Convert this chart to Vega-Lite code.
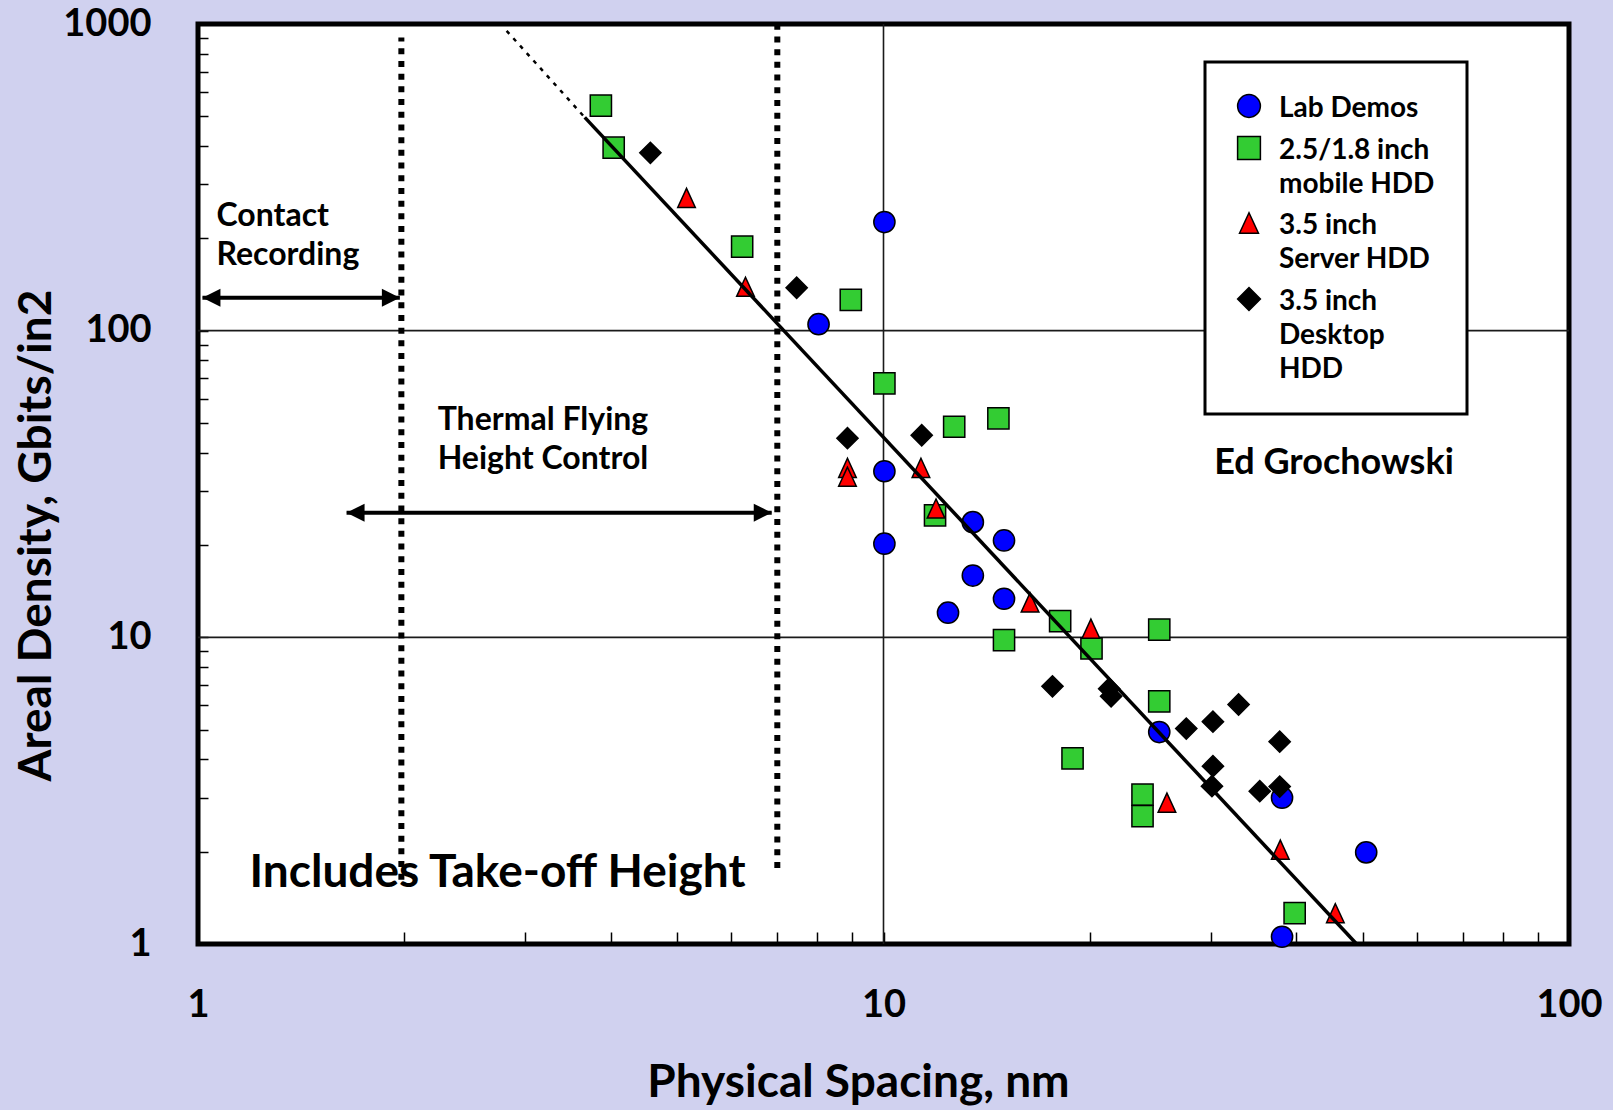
{
  "$schema": "https://vega.github.io/schema/vega-lite/v6.json",
  "width": 1371,
  "height": 920,
  "autosize": {"type": "none"},
  "padding": {"left": 198, "top": 24, "right": 44, "bottom": 166},
  "background": "#d0d1ef",
  "config": {
    "view": {"stroke": "black", "strokeWidth": 5, "fill": "white"},
    "font": "Lato",
    "legend": {"strokeWidth": 3},
    "style": {"guide-label": {"lineHeight": 34, "dy": -11}}
  },
  "resolve": {"axis": {"x": "independent", "y": "independent"}},
  "layer": [
    {
      "data": {"values": [{"y": 10}, {"y": 100}]},
      "mark": {"type": "rule", "color": "#1a1a1a", "strokeWidth": 1.6},
      "encoding": {
        "y": {"field": "y", "type": "quantitative", "scale": {"type": "log", "domain": [1, 1000], "nice": false}, "axis": null}
      }
    },
    {
      "data": {"values": [{"x": 10}]},
      "mark": {"type": "rule", "color": "#1a1a1a", "strokeWidth": 1.6},
      "encoding": {
        "x": {"field": "x", "type": "quantitative", "scale": {"type": "log", "domain": [1, 100], "nice": false}, "axis": null}
      }
    },
    {
      "data": {"values": [{"x": 1.98, "y": 1.62, "y2": 904}, {"x": 7.0, "y": 1.77, "y2": 1000}]},
      "mark": {"type": "rule", "color": "black", "strokeWidth": 6, "strokeDash": [6, 6.7], "strokeCap": "butt"},
      "encoding": {
        "x": {"field": "x", "type": "quantitative", "scale": {"type": "log", "domain": [1, 100], "nice": false}, "axis": null},
        "y": {"field": "y", "type": "quantitative", "scale": {"type": "log", "domain": [1, 1000], "nice": false}, "axis": null},
        "y2": {"field": "y2"}
      }
    },
    {
      "data": {"values": [{"x": 1.015, "x2": 1.97, "y": 128}, {"x": 1.647, "x2": 6.87, "y": 25.5}]},
      "mark": {"type": "rule", "color": "black", "strokeWidth": 4},
      "encoding": {
        "x": {"field": "x", "type": "quantitative", "scale": {"type": "log", "domain": [1, 100], "nice": false}, "axis": null},
        "x2": {"field": "x2"},
        "y": {"field": "y", "type": "quantitative", "scale": {"type": "log", "domain": [1, 1000], "nice": false}, "axis": null}
      }
    },
    {
      "data": {"values": [{"x": 1.015, "y": 128}, {"x": 1.647, "y": 25.5}]},
      "mark": {"type": "point", "shape": "M0,0L2,-1L2,1Z", "filled": true, "fill": "black", "strokeWidth": 0, "size": 324, "opacity": 1},
      "encoding": {
        "x": {"field": "x", "type": "quantitative", "scale": {"type": "log", "domain": [1, 100], "nice": false}, "axis": null},
        "y": {"field": "y", "type": "quantitative", "scale": {"type": "log", "domain": [1, 1000], "nice": false}, "axis": null}
      }
    },
    {
      "data": {"values": [{"x": 1.97, "y": 128}, {"x": 6.87, "y": 25.5}]},
      "mark": {"type": "point", "shape": "M0,0L-2,-1L-2,1Z", "filled": true, "fill": "black", "strokeWidth": 0, "size": 324, "opacity": 1},
      "encoding": {
        "x": {"field": "x", "type": "quantitative", "scale": {"type": "log", "domain": [1, 100], "nice": false}, "axis": null},
        "y": {"field": "y", "type": "quantitative", "scale": {"type": "log", "domain": [1, 1000], "nice": false}, "axis": null}
      }
    },
    {
      "data": {"values": [
        {"series": "2.5/1.8 inch mobile HDD", "x": 3.87, "y": 542},
        {"series": "2.5/1.8 inch mobile HDD", "x": 4.04, "y": 395},
        {"series": "2.5/1.8 inch mobile HDD", "x": 6.22, "y": 188},
        {"series": "2.5/1.8 inch mobile HDD", "x": 8.96, "y": 126},
        {"series": "2.5/1.8 inch mobile HDD", "x": 10.03, "y": 67.3},
        {"series": "2.5/1.8 inch mobile HDD", "x": 12.68, "y": 48.6},
        {"series": "2.5/1.8 inch mobile HDD", "x": 14.71, "y": 51.8},
        {"series": "2.5/1.8 inch mobile HDD", "x": 11.89, "y": 25.0},
        {"series": "2.5/1.8 inch mobile HDD", "x": 18.1, "y": 11.3},
        {"series": "2.5/1.8 inch mobile HDD", "x": 25.25, "y": 10.6},
        {"series": "2.5/1.8 inch mobile HDD", "x": 14.99, "y": 9.79},
        {"series": "2.5/1.8 inch mobile HDD", "x": 20.11, "y": 9.2},
        {"series": "2.5/1.8 inch mobile HDD", "x": 25.25, "y": 6.18},
        {"series": "2.5/1.8 inch mobile HDD", "x": 18.87, "y": 4.03},
        {"series": "2.5/1.8 inch mobile HDD", "x": 23.87, "y": 3.07},
        {"series": "2.5/1.8 inch mobile HDD", "x": 23.87, "y": 2.61},
        {"series": "2.5/1.8 inch mobile HDD", "x": 39.79, "y": 1.26},
        {"series": "Lab Demos", "x": 10.03, "y": 226},
        {"series": "Lab Demos", "x": 8.04, "y": 105},
        {"series": "Lab Demos", "x": 10.03, "y": 34.8},
        {"series": "Lab Demos", "x": 10.03, "y": 20.2},
        {"series": "Lab Demos", "x": 13.5, "y": 23.75},
        {"series": "Lab Demos", "x": 14.99, "y": 20.7},
        {"series": "Lab Demos", "x": 13.5, "y": 15.9},
        {"series": "Lab Demos", "x": 14.99, "y": 13.36},
        {"series": "Lab Demos", "x": 12.42, "y": 12.03},
        {"series": "Lab Demos", "x": 25.25, "y": 4.91},
        {"series": "Lab Demos", "x": 38.14, "y": 3.0},
        {"series": "Lab Demos", "x": 38.14, "y": 1.056},
        {"series": "Lab Demos", "x": 50.6, "y": 1.99},
        {"series": "3.5 inch Server HDD", "x": 5.16, "y": 271},
        {"series": "3.5 inch Server HDD", "x": 6.29, "y": 139},
        {"series": "3.5 inch Server HDD", "x": 8.86, "y": 35.7},
        {"series": "3.5 inch Server HDD", "x": 8.86, "y": 33.4},
        {"series": "3.5 inch Server HDD", "x": 11.34, "y": 35.7},
        {"series": "3.5 inch Server HDD", "x": 11.93, "y": 26.3},
        {"series": "3.5 inch Server HDD", "x": 16.36, "y": 13.0},
        {"series": "3.5 inch Server HDD", "x": 20.07, "y": 10.67},
        {"series": "3.5 inch Server HDD", "x": 25.91, "y": 2.89},
        {"series": "3.5 inch Server HDD", "x": 37.92, "y": 2.03},
        {"series": "3.5 inch Server HDD", "x": 45.62, "y": 1.26},
        {"series": "3.5 inch Desktop HDD", "x": 4.57, "y": 380},
        {"series": "3.5 inch Desktop HDD", "x": 7.47, "y": 138},
        {"series": "3.5 inch Desktop HDD", "x": 8.86, "y": 44.6},
        {"series": "3.5 inch Desktop HDD", "x": 11.37, "y": 45.6},
        {"series": "3.5 inch Desktop HDD", "x": 17.64, "y": 6.92},
        {"series": "3.5 inch Desktop HDD", "x": 21.34, "y": 6.8},
        {"series": "3.5 inch Desktop HDD", "x": 21.48, "y": 6.42},
        {"series": "3.5 inch Desktop HDD", "x": 32.96, "y": 6.04},
        {"series": "3.5 inch Desktop HDD", "x": 30.24, "y": 5.31},
        {"series": "3.5 inch Desktop HDD", "x": 27.65, "y": 5.04},
        {"series": "3.5 inch Desktop HDD", "x": 37.84, "y": 4.57},
        {"series": "3.5 inch Desktop HDD", "x": 30.24, "y": 3.8},
        {"series": "3.5 inch Desktop HDD", "x": 30.14, "y": 3.27},
        {"series": "3.5 inch Desktop HDD", "x": 35.39, "y": 3.15},
        {"series": "3.5 inch Desktop HDD", "x": 37.84, "y": 3.26}
      ]},
      "mark": {"type": "point", "filled": true, "strokeWidth": 1.5, "opacity": 1, "size": 450},
      "encoding": {
        "x": {
          "field": "x", "type": "quantitative",
          "scale": {"type": "log", "domain": [1, 100], "nice": false},
          "axis": {
            "values": [1, 2, 3, 4, 5, 6, 7, 8, 9, 10, 20, 30, 40, 50, 60, 70, 80, 90, 100],
            "labelExpr": "datum.value == 1 || datum.value == 10 || datum.value == 100 ? format(datum.value, 'd') : ''",
            "title": "Physical Spacing, nm",
            "titleFont": "Lato", "titleFontWeight": "bold", "titleFontSize": 46, "titleColor": "black",
            "titleX": 660, "titleY": 152, "titleAlign": "center", "titleBaseline": "alphabetic",
            "labelFont": "Lato", "labelFontWeight": "bold", "labelFontSize": 38, "labelColor": "black",
            "labelPadding": 65, "labelFlush": false, "labelOverlap": false, "labelBaseline": "top", "labelAlign": "center",
            "tickSize": -12, "tickWidth": 1.5, "tickColor": "black",
            "domain": false, "grid": false
          }
        },
        "y": {
          "field": "y", "type": "quantitative",
          "scale": {"type": "log", "domain": [1, 1000], "nice": false},
          "axis": {
            "values": [1, 2, 3, 4, 5, 6, 7, 8, 9, 10, 20, 30, 40, 50, 60, 70, 80, 90, 100, 200, 300, 400, 500, 600, 700, 800, 900, 1000],
            "labelExpr": "datum.value == 1 || datum.value == 10 || datum.value == 100 || datum.value == 1000 ? format(datum.value, 'd') : ''",
            "title": "Areal Density, Gbits/in2",
            "titleFont": "Lato", "titleFontWeight": "bold", "titleFontSize": 46, "titleColor": "black",
            "titleAngle": 270, "titleX": -148, "titleY": 511, "titleAlign": "center", "titleBaseline": "alphabetic",
            "labelFont": "Lato", "labelFontWeight": "bold", "labelFontSize": 38, "labelColor": "black",
            "labelPadding": 57, "labelOffset": 11, "labelFlush": false, "labelOverlap": false, "labelAlign": "right", "labelBaseline": "middle",
            "tickSize": -10, "tickWidth": 1.5, "tickColor": "black",
            "domain": false, "grid": false
          }
        },
        "fill": {
          "field": "series", "type": "nominal",
          "scale": {"domain": ["Lab Demos", "2.5/1.8 inch mobile HDD", "3.5 inch Server HDD", "3.5 inch Desktop HDD"], "range": ["#0000ff", "#33cc33", "#ff0000", "#000000"]},
          "legend": {
            "title": null, "orient": "none", "legendX": 1007, "legendY": 38,
            "padding": 30, "strokeColor": "black", "fillColor": "white",
            "symbolSize": 520, "symbolStrokeWidth": 1.5, "symbolOffset": 0,
            "labelFont": "Lato", "labelFontWeight": "bold", "labelFontSize": 28, "labelColor": "black",
            "labelBaseline": "top", "labelOffset": 16, "labelLimit": 400, "rowPadding": 10,
            "labelExpr": "datum.value == 'Lab Demos' ? 'Lab Demos' : datum.value == '2.5/1.8 inch mobile HDD' ? ['2.5/1.8  inch', 'mobile HDD'] : datum.value == '3.5 inch Server HDD' ? ['3.5 inch', 'Server HDD'] : ['3.5 inch', 'Desktop', 'HDD']"
          }
        },
        "shape": {
          "field": "series", "type": "nominal",
          "scale": {"domain": ["Lab Demos", "2.5/1.8 inch mobile HDD", "3.5 inch Server HDD", "3.5 inch Desktop HDD"], "range": ["circle", "square", "M0,-0.9L-0.83,0.9L0.83,0.9Z", "diamond"]},
          "legend": {
            "title": null, "orient": "none", "legendX": 1007, "legendY": 38,
            "padding": 30, "strokeColor": "black", "fillColor": "white",
            "symbolSize": 520, "symbolStrokeWidth": 1.5, "symbolOffset": 0,
            "labelFont": "Lato", "labelFontWeight": "bold", "labelFontSize": 28, "labelColor": "black",
            "labelBaseline": "top", "labelOffset": 16, "labelLimit": 400, "rowPadding": 10,
            "labelExpr": "datum.value == 'Lab Demos' ? 'Lab Demos' : datum.value == '2.5/1.8 inch mobile HDD' ? ['2.5/1.8  inch', 'mobile HDD'] : datum.value == '3.5 inch Server HDD' ? ['3.5 inch', 'Server HDD'] : ['3.5 inch', 'Desktop', 'HDD']"
          }
        },
        "stroke": {
          "field": "series", "type": "nominal",
          "scale": {"domain": ["Lab Demos", "2.5/1.8 inch mobile HDD", "3.5 inch Server HDD", "3.5 inch Desktop HDD"], "range": ["#000000", "#000000", "#000000", "#000000"]},
          "legend": {
            "title": null, "orient": "none", "legendX": 1007, "legendY": 38,
            "padding": 30, "strokeColor": "black", "fillColor": "white",
            "symbolSize": 520, "symbolStrokeWidth": 1.5, "symbolOffset": 0,
            "labelFont": "Lato", "labelFontWeight": "bold", "labelFontSize": 28, "labelColor": "black",
            "labelBaseline": "top", "labelOffset": 16, "labelLimit": 400, "rowPadding": 10,
            "labelExpr": "datum.value == 'Lab Demos' ? 'Lab Demos' : datum.value == '2.5/1.8 inch mobile HDD' ? ['2.5/1.8  inch', 'mobile HDD'] : datum.value == '3.5 inch Server HDD' ? ['3.5 inch', 'Server HDD'] : ['3.5 inch', 'Desktop', 'HDD']"
          }
        }
      }
    },
    {
      "data": {"values": [{"x": 2.82, "y": 950}, {"x": 3.666, "y": 496}]},
      "mark": {"type": "line", "color": "black", "strokeWidth": 2.5, "strokeDash": [4, 6]},
      "encoding": {
        "x": {"field": "x", "type": "quantitative", "scale": {"type": "log", "domain": [1, 100], "nice": false}, "axis": null},
        "y": {"field": "y", "type": "quantitative", "scale": {"type": "log", "domain": [1, 1000], "nice": false}, "axis": null}
      }
    },
    {
      "data": {"values": [{"x": 3.666, "y": 496}, {"x": 49, "y": 1.0}]},
      "mark": {"type": "line", "color": "black", "strokeWidth": 3.5},
      "encoding": {
        "x": {"field": "x", "type": "quantitative", "scale": {"type": "log", "domain": [1, 100], "nice": false}, "axis": null},
        "y": {"field": "y", "type": "quantitative", "scale": {"type": "log", "domain": [1, 1000], "nice": false}, "axis": null}
      }
    },
    {
      "data": {"values": [
        {"x": 1.064, "y": 220, "t": ["Contact", "Recording"]},
        {"x": 2.237, "y": 47.6, "t": ["Thermal Flying", "Height Control"]}
      ]},
      "mark": {"type": "text", "align": "left", "baseline": "alphabetic", "font": "Lato", "fontWeight": "bold", "fontSize": 32, "lineHeight": 39, "color": "black"},
      "encoding": {
        "x": {"field": "x", "type": "quantitative", "scale": {"type": "log", "domain": [1, 100], "nice": false}, "axis": null},
        "y": {"field": "y", "type": "quantitative", "scale": {"type": "log", "domain": [1, 1000], "nice": false}, "axis": null},
        "text": {"field": "t"}
      }
    },
    {
      "data": {"values": [{"x": 1.189, "y": 1.53, "t": "Includes Take-off Height"}]},
      "mark": {"type": "text", "align": "left", "baseline": "alphabetic", "font": "Lato", "fontWeight": "bold", "fontSize": 46, "color": "black"},
      "encoding": {
        "x": {"field": "x", "type": "quantitative", "scale": {"type": "log", "domain": [1, 100], "nice": false}, "axis": null},
        "y": {"field": "y", "type": "quantitative", "scale": {"type": "log", "domain": [1, 1000], "nice": false}, "axis": null},
        "text": {"field": "t"}
      }
    },
    {
      "data": {"values": [{"x": 30.37, "y": 33.97, "t": "Ed Grochowski"}]},
      "mark": {"type": "text", "align": "left", "baseline": "alphabetic", "font": "Lato", "fontWeight": "bold", "fontSize": 36, "color": "black"},
      "encoding": {
        "x": {"field": "x", "type": "quantitative", "scale": {"type": "log", "domain": [1, 100], "nice": false}, "axis": null},
        "y": {"field": "y", "type": "quantitative", "scale": {"type": "log", "domain": [1, 1000], "nice": false}, "axis": null},
        "text": {"field": "t"}
      }
    }
  ]
}
